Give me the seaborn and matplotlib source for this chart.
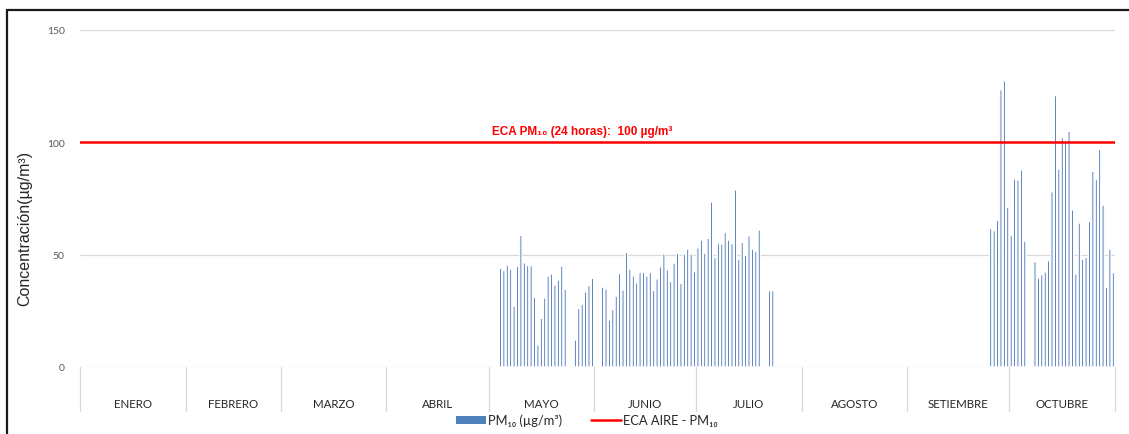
import numpy as np
import pandas as pd
import seaborn as sns
import matplotlib.pyplot as plt
from matplotlib.patches import Patch
from matplotlib.lines import Line2D

# meses y numero de dias (enero - octubre)
meses = ['ENERO', 'FEBRERO', 'MARZO', 'ABRIL', 'MAYO', 'JUNIO',
         'JULIO', 'AGOSTO', 'SETIEMBRE', 'OCTUBRE']
dias_mes = [31, 28, 31, 30, 31, 30, 31, 31, 30, 31]

# PM10 diario (ug/m3) por mes
mayo_dias = list(range(4, 24)) + list(range(26, 32))
mayo_pm10 = [43.9, 42.9, 45.4, 43.5, 27.1, 44.8, 58.6, 46.4, 45.2, 45.1,
             31.0, 9.8, 21.7, 30.7, 40.5, 41.4, 36.5, 38.7, 44.9, 34.6,
             12.0, 26.1, 28.0, 33.4, 36.3, 39.5]

junio_dias = list(range(3, 31))
junio_pm10 = [35.6, 34.7, 20.9, 25.5, 31.5, 41.7, 34.3, 51.0, 43.6, 40.5,
              37.4, 42.1, 42.1, 40.5, 42.1, 34.1, 39.2, 44.6, 50.5, 43.2,
              38.0, 46.3, 50.7, 37.2, 50.3, 52.5, 50.3, 42.4]

julio_dias = list(range(1, 20)) + [22, 23]
julio_pm10 = [53.0, 56.5, 50.7, 57.3, 73.4, 48.8, 55.0, 54.7, 59.9, 56.5,
              55.0, 78.8, 48.1, 55.5, 49.8, 58.4, 52.5, 51.5, 61.0,
              34.0, 34.0]

setiembre_dias = list(range(25, 31))
setiembre_pm10 = [61.7, 60.7, 65.3, 123.4, 127.4, 71.1]

octubre_dias = list(range(1, 6)) + list(range(8, 32))
octubre_pm10 = [58.5, 83.7, 83.2, 87.7, 56.0,
                46.9, 39.6, 41.1, 42.3, 47.3, 78.0, 120.8, 88.1, 102.2, 101.0,
                104.9, 69.9, 41.4, 64.1, 47.9, 48.8, 64.8, 87.1, 83.5, 96.9,
                72.1, 35.5, 52.5, 42.0]

eca_pm10 = 100

inicio = np.concatenate([[0], np.cumsum(dias_mes)])
total_dias = inicio[-1]

filas = []
for mes, dias, valores in [('MAYO', mayo_dias, mayo_pm10),
                           ('JUNIO', junio_dias, junio_pm10),
                           ('JULIO', julio_dias, julio_pm10),
                           ('SETIEMBRE', setiembre_dias, setiembre_pm10),
                           ('OCTUBRE', octubre_dias, octubre_pm10)]:
    i = meses.index(mes)
    for d, v in zip(dias, valores):
        filas.append({'x': inicio[i] + d - 0.5, 'pm10': v})
df = pd.DataFrame(filas)

sns.set_style('white')
plt.rcParams['font.family'] = ['Lato', 'DejaVu Sans']

fig = plt.figure(figsize=(11.29, 4.35), dpi=100)
ax = fig.add_axes([80 / 1129, 1 - 368 / 435, 1035 / 1129, 337 / 435])

azul = '#3867B0'
sns.barplot(data=df, x='x', y='pm10', native_scale=True, width=0.64,
            color=azul, saturation=1, ax=ax, errorbar=None)
for p in ax.patches:
    p.set_snap(False)

ax.set_xlim(0, total_dias)
ax.set_ylim(0, 150)
for v in [0, 50, 100, 150]:
    ax.axhline(v, color='#D9D9D9', lw=0.9, zorder=0)
ax.axhline(eca_pm10, color='#FF0000', lw=1.8, zorder=3)

ax.text(147.5, 102.5, 'ECA PM₁₀ (24 horas):  100 µg/m³', color='#FF0000',
        fontsize=8.5, fontweight='bold', ha='center', va='bottom',
        family=['Liberation Sans', 'DejaVu Sans'])

for s in ax.spines.values():
    s.set_visible(False)
ax.set_xticks([])
ax.set_xlabel('')
ax.set_yticks([0, 50, 100, 150])
ax.tick_params(axis='y', length=0, pad=11, labelsize=7.5, labelcolor='#595959')

ax.set_ylabel('Concentración(µg/m³)', fontsize=11.5,
              family=['Liberation Sans', 'DejaVu Sans'])
ax.yaxis.set_label_coords(-0.046, 0.415)

# tabla de meses bajo el eje
trans = ax.get_xaxis_transform()
for b in inicio:
    ax.plot([b, b], [0, -0.1306], transform=trans, color='#D9D9D9',
            lw=0.9, clip_on=False)
for i, mes in enumerate(meses):
    ax.text((inicio[i] + inicio[i + 1]) / 2, -0.107, mes, transform=trans,
            ha='center', va='center', fontsize=8.3, color='#262626')

handles = [Patch(facecolor='#4F81BD', edgecolor='none', label='PM₁₀ (µg/m³)'),
           Line2D([0], [0], color='#FF0000', lw=1.8, label='ECA AIRE - PM₁₀')]
fig.legend(handles=handles, loc='center', bbox_to_anchor=(0.52, 0.032),
           ncol=2, frameon=False, fontsize=9.3, handlelength=2.3,
           handleheight=0.6, handletextpad=0.2, columnspacing=2.2)

# marco del grafico
fig.add_artist(Line2D([7 / 1129, 1], [1 - 11 / 435, 1 - 11 / 435],
                      color='#1A1A1A', lw=1.6))
fig.add_artist(Line2D([7 / 1129, 7 / 1129], [0, 1 - 11 / 435],
                      color='#1A1A1A', lw=1.6))

fig.savefig('out.png', dpi=100)
